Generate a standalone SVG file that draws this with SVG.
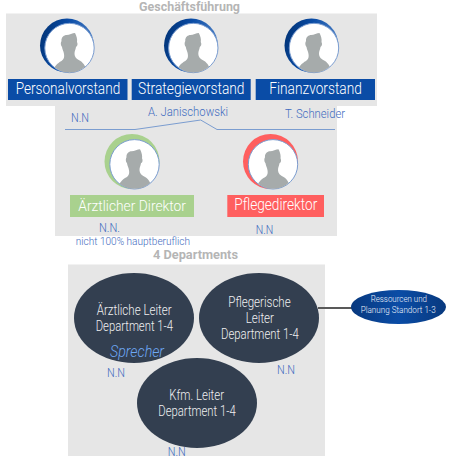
<svg xmlns="http://www.w3.org/2000/svg" xmlns:xlink="http://www.w3.org/1999/xlink" width="449" height="459" viewBox="0 0 449 459">
<style>
text{font-family:Roboto,"Liberation Sans",sans-serif}
.panel{fill:#e6e6e6}
.title{font-size:12px;font-weight:700;fill:#b5b5b5}
.box{font-size:17px;font-weight:300;fill:#fff}
.nn{font-size:13px;font-weight:300;fill:#3f6cc0}
.dark{fill:#333f50}
.et{font-size:14.500px;font-weight:300;fill:#f0f0f0}
.small{font-size:9.500px;font-weight:300;fill:#eef3fb}
.ring{fill:#fff;stroke:#7b9dd0;stroke-width:1}
</style>
<defs>
<linearGradient id="navy" x1="0" y1="0" x2="1" y2="0.3"><stop offset="0" stop-color="#002f6e"/><stop offset="0.5" stop-color="#0a4ca6"/><stop offset="1" stop-color="#4d80c4"/></linearGradient>
<linearGradient id="pill" x1="0" y1="0" x2="1" y2="0"><stop offset="0" stop-color="#08397e"/><stop offset="0.5" stop-color="#0a4ca6"/><stop offset="1" stop-color="#08397e"/></linearGradient>
<clipPath id="face"><circle cx="0" cy="0" r="24.5"/></clipPath>
<g id="person">
<circle class="ring" cx="0" cy="0" r="24.7"/>
<path clip-path="url(#face)" fill="#a6abab" d="M-8-7C-8.500-11-5-13-3-13C0-13 3-15 5.500-15C7-12 8-9 7.500-6C8.500-4 8-2 6.500-1C6 2 5 3 5 6C5 9 7 11 11 13C14 15 17 19 17 25L-17 25C-16 19-12 15-8 13C-5.500 11-5 9-5.500 6C-6 3-7 2-7.500-1C-9-3-9-5-8-7Z"/>
</g>
</defs>

<g id="panels">
<rect class="panel" x="6" y="13.500" width="371" height="92.500"/>
<rect class="panel" x="55" y="106" width="282" height="130"/>
<rect class="panel" x="68" y="264.500" width="257" height="191.500"/>
</g>

<g id="connectors">
<polyline points="65,129.500 135,129.500 200.700,120 217,129.500 335,129.500" fill="none" stroke="#7b9dd0" stroke-width="1"/>
<line x1="318" y1="308" x2="353" y2="308" stroke="#595959" stroke-width="2"/>
</g>

<text class="title" x="139" y="10.500" textLength="101" lengthAdjust="spacingAndGlyphs">Geschäftsführung</text>
<text class="title" style="font-size:12.500px" x="153" y="259" textLength="85" lengthAdjust="spacingAndGlyphs">4 Departments</text>

<g id="personalvorstand">
<circle cx="67" cy="45.500" r="27" fill="url(#navy)"/>
<use href="#person" x="69.500" y="48"/>
<rect x="8" y="79" width="119.500" height="21" fill="#0a4ca6"/>
<text class="box" x="15.700" y="94.300" textLength="104.500" lengthAdjust="spacingAndGlyphs">Personalvorstand</text>
<text class="nn" x="71" y="122" textLength="18" lengthAdjust="spacingAndGlyphs">N.N</text>
</g>
<g id="strategievorstand">
<circle cx="191" cy="45.500" r="27" fill="url(#navy)"/>
<use href="#person" x="193.300" y="48"/>
<rect x="131.700" y="79" width="119" height="21" fill="#0a4ca6"/>
<text class="box" x="138" y="94.300" textLength="106.500" lengthAdjust="spacingAndGlyphs">Strategievorstand</text>
<text class="nn" x="148" y="116" textLength="80" lengthAdjust="spacingAndGlyphs">A. Janischowski</text>
</g>
<g id="finanzvorstand">
<circle cx="311.500" cy="45.500" r="27" fill="url(#navy)"/>
<use href="#person" x="314" y="48"/>
<rect x="255.700" y="79" width="119.300" height="21" fill="#0a4ca6"/>
<text class="box" x="269.300" y="94.300" textLength="92.500" lengthAdjust="spacingAndGlyphs">Finanzvorstand</text>
<text class="nn" x="285" y="118" textLength="60" lengthAdjust="spacingAndGlyphs">T. Schneider</text>
</g>
<g id="aerztlicher-direktor">
<circle cx="132" cy="161.500" r="27.500" fill="#a9d18e"/>
<use href="#person" x="134.500" y="164.300"/>
<rect x="70" y="195" width="124" height="22" fill="#a9d18e"/>
<text class="box" style="font-size:15.500px" x="78.300" y="210.500" textLength="107.700" lengthAdjust="spacingAndGlyphs">Ärztlicher Direktor</text>
<text class="nn" style="font-size:12px" x="99" y="231.500" textLength="21" lengthAdjust="spacingAndGlyphs">N.N.</text>
<text class="nn" style="font-size:11px" x="75.700" y="244.500" textLength="114.300" lengthAdjust="spacingAndGlyphs">nicht 100% hauptberuflich</text>
</g>
<g id="pflegedirektor">
<circle cx="270.500" cy="161.500" r="27.500" fill="#ff5f5f"/>
<use href="#person" x="273" y="164.300"/>
<rect x="227.300" y="195" width="96.700" height="22" fill="#ff5f5f"/>
<text class="box" x="234.300" y="210" textLength="83" lengthAdjust="spacingAndGlyphs">Pflegedirektor</text>
<text class="nn" x="255.700" y="234" textLength="17.500" lengthAdjust="spacingAndGlyphs">N.N</text>
</g>
<g id="aerztliche-leiter">
<ellipse class="dark" cx="134" cy="318" rx="60" ry="45"/>
<text class="et" x="96.700" y="315" textLength="75" lengthAdjust="spacingAndGlyphs">Ärztliche Leiter</text>
<text class="et" x="95.700" y="330.700" textLength="77.300" lengthAdjust="spacingAndGlyphs">Department 1-4</text>
<text x="110" y="357" style="font-size:16px;font-weight:300;font-style:italic;fill:#6ea8f5" textLength="54" lengthAdjust="spacingAndGlyphs">Sprecher</text>
<text class="nn" x="107" y="377" textLength="18" lengthAdjust="spacingAndGlyphs">N.N</text>
</g>
<g id="pflegerische-leiter">
<ellipse class="dark" cx="259" cy="318" rx="60" ry="45"/>
<text class="et" x="228.300" y="306.700" textLength="62.400" lengthAdjust="spacingAndGlyphs">Pflegerische</text>
<text class="et" x="245.700" y="322.700" textLength="28.300" lengthAdjust="spacingAndGlyphs">Leiter</text>
<text class="et" x="221" y="338.700" textLength="77.700" lengthAdjust="spacingAndGlyphs">Department 1-4</text>
<text class="nn" x="277" y="374" textLength="18" lengthAdjust="spacingAndGlyphs">N.N</text>
</g>
<g id="kfm-leiter">
<ellipse class="dark" cx="197" cy="403" rx="60" ry="45"/>
<text class="et" x="169.300" y="400" textLength="54.700" lengthAdjust="spacingAndGlyphs">Kfm. Leiter</text>
<text class="et" x="158.300" y="415.700" textLength="77.400" lengthAdjust="spacingAndGlyphs">Department 1-4</text>
<text class="nn" x="167.700" y="455.700" textLength="18" lengthAdjust="spacingAndGlyphs">N.N</text>
</g>
<g id="ressourcen">
<ellipse cx="398.500" cy="307" rx="47.500" ry="17" fill="url(#pill)"/>
<text class="small" x="370.700" y="301.500" textLength="56.300" lengthAdjust="spacingAndGlyphs">Ressourcen und</text>
<text class="small" x="360.700" y="312.700" textLength="75" lengthAdjust="spacingAndGlyphs">Planung Standort 1-3</text>
</g>
</svg>
